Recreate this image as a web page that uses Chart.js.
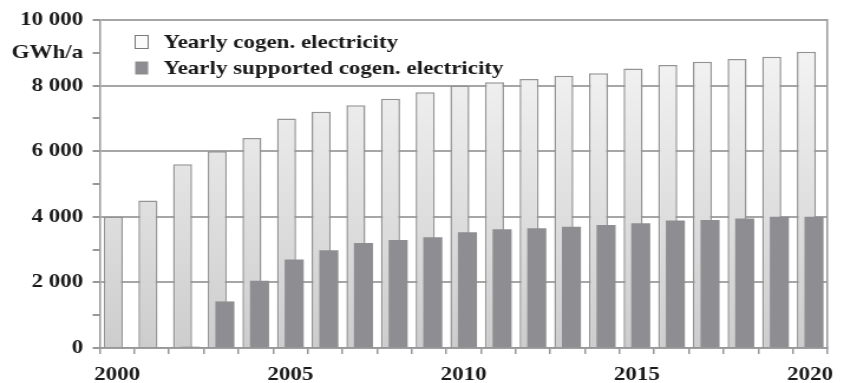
<!DOCTYPE html>
<html>
<head>
<meta charset="utf-8">
<script src="https://cdn.jsdelivr.net/npm/chart.js@4.4.1/dist/chart.umd.min.js"></script>
<style>
  html, body { margin: 0; padding: 0; background: #fff; }
</style>
</head>
<body>
<!-- drawn at 715 wide, shown at 844 (the serif type is set wide) -->
<canvas id="cogen" width="715" height="383" style="display:block;width:844px;height:383px"></canvas>
<script>
var years = [2000, 2001, 2002, 2003, 2004, 2005, 2006, 2007, 2008, 2009, 2010,
             2011, 2012, 2013, 2014, 2015, 2016, 2017, 2018, 2019, 2020];
var cogenTotal = [4000, 4500, 5600, 6000, 6400, 7000, 7200, 7400, 7600, 7800, 8000,
                  8100, 8200, 8300, 8380, 8520, 8630, 8730, 8810, 8880, 9030];
var cogenSupported = [0, 0, 40, 1420, 2050, 2700, 2980, 3200, 3290, 3380, 3530,
                      3620, 3650, 3700, 3750, 3800, 3890, 3900, 3950, 4000, 4000];
var seriesNames = ['Yearly cogen. electricity', 'Yearly supported cogen. electricity'];
var yTickValues = [0, 2000, 4000, 6000, 8000, 9000, 10000];
var yTickLabels = ['0', '2 000', '4 000', '6 000', '8 000', 'GWh/a', '10 000'];

var ink = '#1a1a1a';
var lineGray = '#979797';
var barGray = '#8e8e92';
var font = { family: '"Liberation Serif", "Times New Roman", serif', weight: 'bold', size: 19.5 };

// light bars fade from near white at the top to a soft gray at the axis
function lightFill(c) {
    var area = c.chart.chartArea;
    if (!area) return '#e4e4e4';
    var g = c.chart.ctx.createLinearGradient(0, area.top, 0, area.bottom);
    g.addColorStop(0, '#f7f7f7');
    g.addColorStop(1, '#cdcdcd');
    return g;
}

// the supported bars overlap the totals from the right, so paint them last
var frontBars = {
    id: 'frontBars',
    beforeDatasetDraw: function(chart, args) {
        if (args.index === 1) return false;
    },
    afterDatasetsDraw: function(chart) {
        var meta = chart.getDatasetMeta(1);
        if (!meta.hidden) meta.controller.draw();
    }
};

// two stacked legend rows inside the plot, top left
var boxLegend = {
    id: 'boxLegend',
    afterDraw: function(chart) {
        var c = chart.ctx;
        var fills = ['#fbfbfb', barGray];
        c.save();
        c.font = 'bold 19.5px "Liberation Serif", "Times New Roman", serif';
        c.textBaseline = 'middle';
        c.textAlign = 'left';
        for (var i = 0; i < seriesNames.length; i++) {
            var y = 42 + i * 26;
            c.fillStyle = fills[i];
            c.fillRect(114.5, y - 6.5, 11, 13);
            if (i === 0) {
                c.strokeStyle = '#7a7a7a';
                c.lineWidth = 1;
                c.strokeRect(114.5, y - 6.5, 11, 13);
            }
            c.fillStyle = ink;
            c.fillText(seriesNames[i], 138.5, y + 1);
        }
        c.restore();
    }
};

var ctx = document.getElementById('cogen').getContext('2d');
var chart = new Chart(ctx, {
    type: 'bar',
    data: {
        labels: years.map(String),
        datasets: [{
            label: seriesNames[0],
            data: cogenTotal,
            backgroundColor: lightFill,
            borderColor: '#939393',
            borderWidth: 1.5,
            categoryPercentage: 0.44,
            barPercentage: 2.5
        }, {
            label: seriesNames[1],
            data: cogenSupported,
            backgroundColor: barGray,
            borderWidth: 0,
            categoryPercentage: 0.44,
            barPercentage: 2.5
        }]
    },
    options: {
        responsive: false,
        devicePixelRatio: 1,
        animation: false,
        layout: { padding: { top: 20, right: 6, left: 0, bottom: 0 }, autoPadding: false },
        plugins: {
            legend: { display: false },
            tooltip: { enabled: false }
        },
        scales: {
            x: {
                grid: { drawOnChartArea: false, color: lineGray, tickLength: 6, lineWidth: 1.5 },
                border: { color: lineGray, width: 1.5 },
                ticks: {
                    autoSkip: false,
                    maxRotation: 0,
                    padding: 9,
                    color: ink,
                    font: font,
                    callback: function(v, i) {
                        return years[i] % 5 === 0 ? String(years[i]) : '';
                    }
                },
                afterFit: function(s) { s.height = 35; }
            },
            y: {
                min: 0,
                max: 10000,
                ticks: {
                    stepSize: 1000,
                    autoSkip: false,
                    padding: 8,
                    color: ink,
                    font: font,
                    callback: function(v) {
                        var k = yTickValues.indexOf(v);
                        return k < 0 ? '' : yTickLabels[k];
                    }
                },
                grid: {
                    color: function(c) {
                        return c.tick && c.tick.value % 2000 === 0 ? '#a6a6a6' : 'rgba(0,0,0,0)';
                    },
                    tickColor: lineGray,
                    lineWidth: 2,
                    tickLength: 6
                },
                border: { color: lineGray, width: 1.5 },
                afterFit: function(s) { s.width = 84.5; }
            },
            y2: {
                position: 'right',
                display: true,
                ticks: { display: false },
                grid: { display: false },
                border: { color: lineGray, width: 1.5 },
                afterFit: function(s) { s.width = 0; }
            }
        }
    },
    plugins: [frontBars, boxLegend]
});
</script>
</body>
</html>
